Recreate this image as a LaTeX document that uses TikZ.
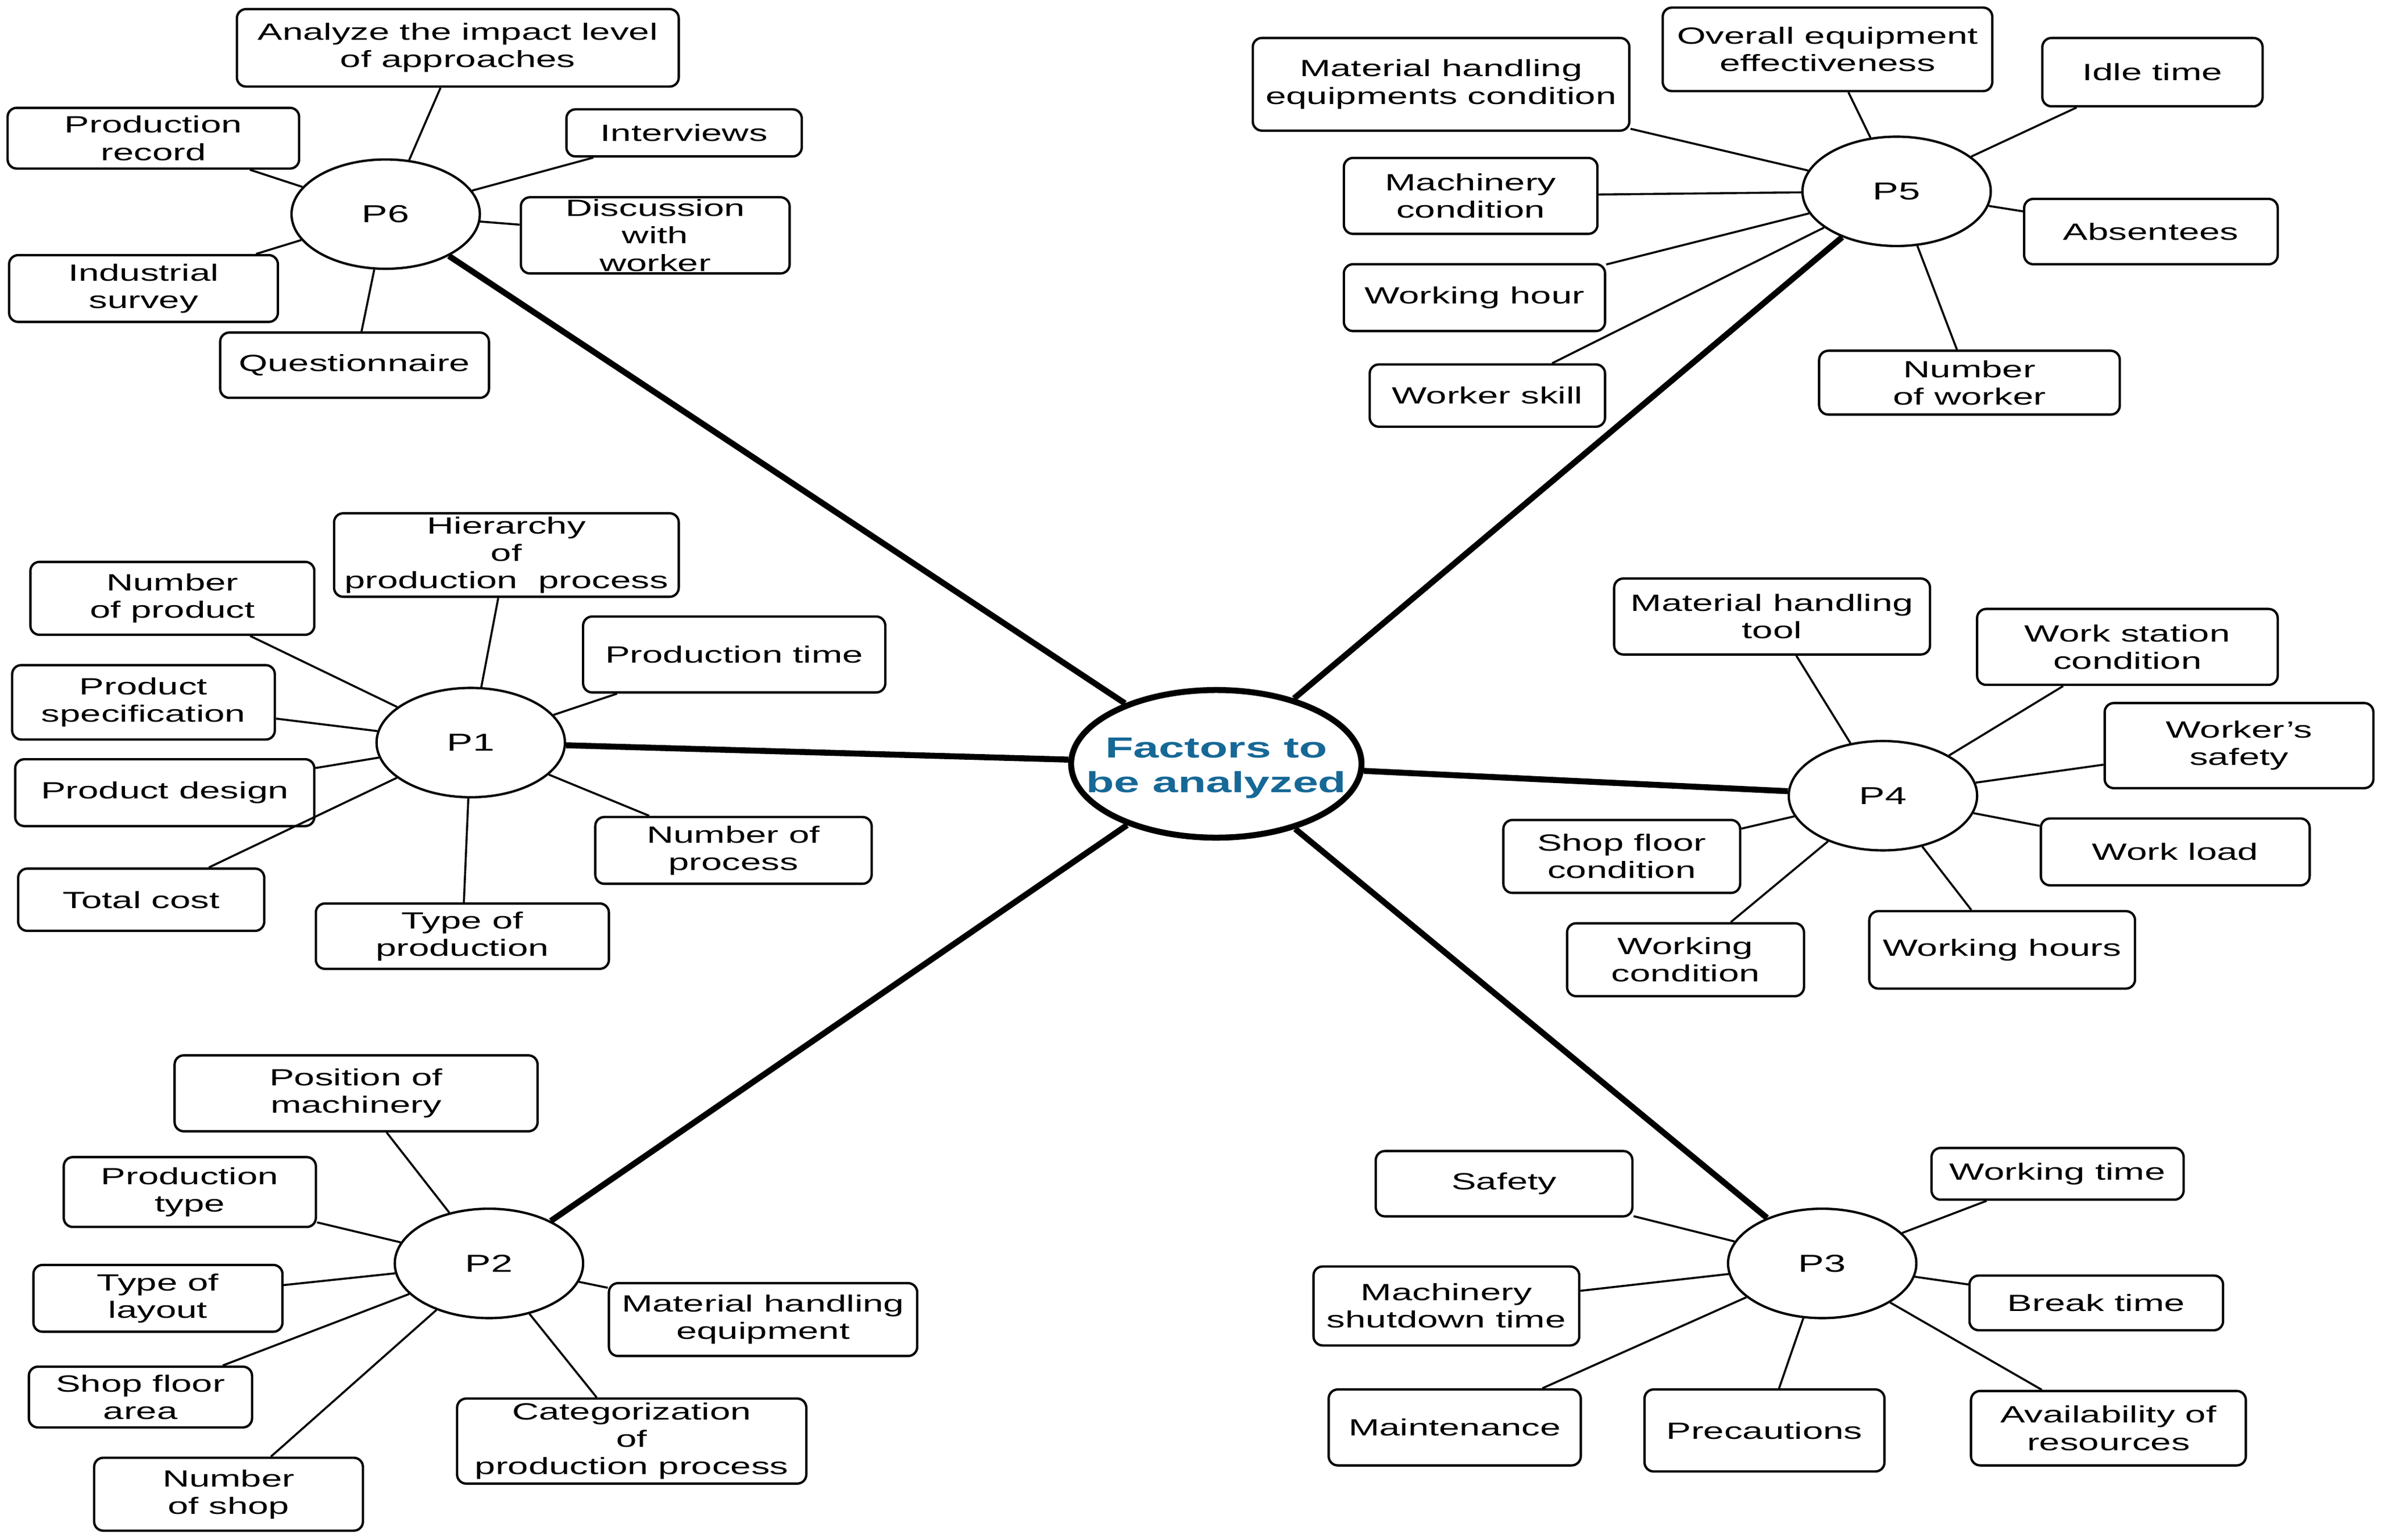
\documentclass[tikz,border=0pt]{standalone}
\usepackage{fontspec}
\setmainfont{Liberation Sans}[FakeStretch=1.58]
\usepackage{xcolor}
\usetikzlibrary{shapes.geometric}
\definecolor{factblue}{RGB}{22,104,150}

\begin{document}
\begin{tikzpicture}[x=0.025cm,y=-0.025cm]
  \tikzstyle{box} = [draw, rounded corners=0.15cm, align=center, inner
  sep=1pt, line width=1.1pt, font=\fontsize{11}{12.8}\selectfont]
  \tikzstyle{pc} = [draw, ellipse, minimum width=3.1cm, minimum
  height=1.8cm, inner sep=0pt, line width=1.1pt,
  font=\fontsize{11.5}{13}\selectfont]
  \tikzstyle{hub} = [draw, ellipse, minimum width=4.78cm, minimum
  height=2.43cm, inner sep=0pt, line width=2.8pt]
  \tikzstyle{hubtext} = [align=center, text=factblue, yshift=-0.07cm,
  font=\bfseries\fontsize{13.6}{16.3}\selectfont]
  \tikzstyle{thin} = [line width=0.95pt]
  \tikzstyle{thick} = [line width=2.8pt]
  \tikzset{sz/.style 2 args={minimum width=#1*0.025cm, minimum height=#2*0.025cm}}
  \useasboundingbox (0,0) rectangle (1568,1014);

  % centre
  \node[hub] (fac) at (801,503) {};
  \node[hubtext] at (fac) {Factors to\\be analyzed};

  % P6
  \node[pc] (p6) at (254,141) {P6};
  \node[box,sz={291}{51}] (p6a) at (301.5,31.5) {Analyze the impact level\\of approaches};
  \node[box,sz={192}{40}] (p6b) at (101,91) {Production\\record};
  \node[box,sz={155}{31}] (p6c) at (450.5,87.5) {Interviews};
  \node[box,sz={177}{50}] (p6d) at (431.5,155) {Discussion\\with\\worker};
  \node[box,sz={177}{44}] (p6e) at (94.5,190) {Industrial\\survey};
  \node[box,sz={177}{43}] (p6f) at (233.5,240.5) {Questionnaire};

  % P5
  \node[pc] (p5) at (1249,126) {P5};
  \node[box,sz={248}{61}] (p5a) at (949,55.5) {Material handling\\equipments condition};
  \node[box,sz={217}{55}] (p5b) at (1203.5,32.5) {Overall equipment\\effectiveness};
  \node[box,sz={145}{45}] (p5c) at (1417.5,47.5) {Idle time};
  \node[box,sz={167}{50}] (p5d) at (968.5,129) {Machinery\\condition};
  \node[box,sz={167}{43}] (p5e) at (1416.5,152.5) {Absentees};
  \node[box,sz={172}{44}] (p5f) at (971,196) {Working hour};
  \node[box,sz={155}{41}] (p5g) at (979.5,260.5) {Worker skill};
  \node[box,sz={198}{42}] (p5h) at (1297,252) {Number\\of worker};

  % P1
  \node[pc] (p1) at (310,489) {P1};
  \node[box,sz={227}{55}] (p1a) at (333.5,365.5) {Hierarchy\\of\\production\ \ process};
  \node[box,sz={187}{48}] (p1b) at (113.5,394) {Number\\of product};
  \node[box,sz={199}{50}] (p1c) at (483.5,431) {Production time};
  \node[box,sz={173}{49}] (p1d) at (94.5,462.5) {Product\\specification};
  \node[box,sz={197}{44}] (p1e) at (108.5,522) {Product design};
  \node[box,sz={182}{44}] (p1f) at (483,560) {Number of\\process};
  \node[box,sz={162}{41}] (p1g) at (93,592.5) {Total cost};
  \node[box,sz={193}{43}] (p1h) at (304.5,616.5) {Type of\\production};

  % P2
  \node[pc] (p2) at (322,832) {P2};
  \node[box,sz={239}{50}] (p2a) at (234.5,720) {Position of\\machinery};
  \node[box,sz={166}{46}] (p2b) at (125,785) {Production\\type};
  \node[box,sz={164}{44}] (p2c) at (104,855) {Type of\\layout};
  \node[box,sz={203}{48}] (p2d) at (502.5,869) {Material handling\\equipment};
  \node[box,sz={147}{40}] (p2e) at (92.5,920) {Shop floor\\area};
  \node[box,sz={230}{56}] (p2f) at (416,949) {Categorization\\of\\production process};
  \node[box,sz={177}{48}] (p2g) at (150.5,984) {Number\\of shop};

  % P3
  \node[pc] (p3) at (1200,832) {P3};
  \node[box,sz={169}{43}] (p3a) at (990.5,779.5) {Safety};
  \node[box,sz={166}{34}] (p3b) at (1355,773) {Working time};
  \node[box,sz={175}{52}] (p3c) at (952.5,860) {Machinery\\shutdown time};
  \node[box,sz={167}{36}] (p3d) at (1380.5,858) {Break time};
  \node[box,sz={166}{50}] (p3e) at (958,940) {Maintenance};
  \node[box,sz={158}{54}] (p3f) at (1162,942) {Precautions};
  \node[box,sz={181}{49}] (p3g) at (1388.5,940.5) {Availability of\\resources};

  % P4
  \node[pc] (p4) at (1240,524) {P4};
  \node[box,sz={208}{50}] (p4a) at (1167,406) {Material handling\\tool};
  \node[box,sz={198}{50}] (p4b) at (1401,426) {Work station\\condition};
  \node[box,sz={177}{56}] (p4c) at (1474.5,491) {Worker's\\safety};
  \node[box,sz={156}{48}] (p4d) at (1068,564) {Shop floor\\condition};
  \node[box,sz={177}{44}] (p4e) at (1432.5,561) {Work load};
  \node[box,sz={156}{48}] (p4f) at (1110,632) {Working\\condition};
  \node[box,sz={175}{51}] (p4g) at (1318.5,625.5) {Working hours};

  % spokes
  \foreach \n in {a,...,f} \draw[thin] (p6\n) -- (p6);
  \foreach \n in {a,...,h} \draw[thin] (p5\n) -- (p5);
  \foreach \n in {a,...,h} \draw[thin] (p1\n) -- (p1);
  \foreach \n in {a,...,g} \draw[thin] (p2\n) -- (p2);
  \foreach \n in {a,...,g} \draw[thin] (p3\n) -- (p3);
  \foreach \n in {a,...,g} \draw[thin] (p4\n) -- (p4);
  \foreach \n in {1,...,6} \draw[thick] (fac) -- (p\n);
\end{tikzpicture}
\end{document}
